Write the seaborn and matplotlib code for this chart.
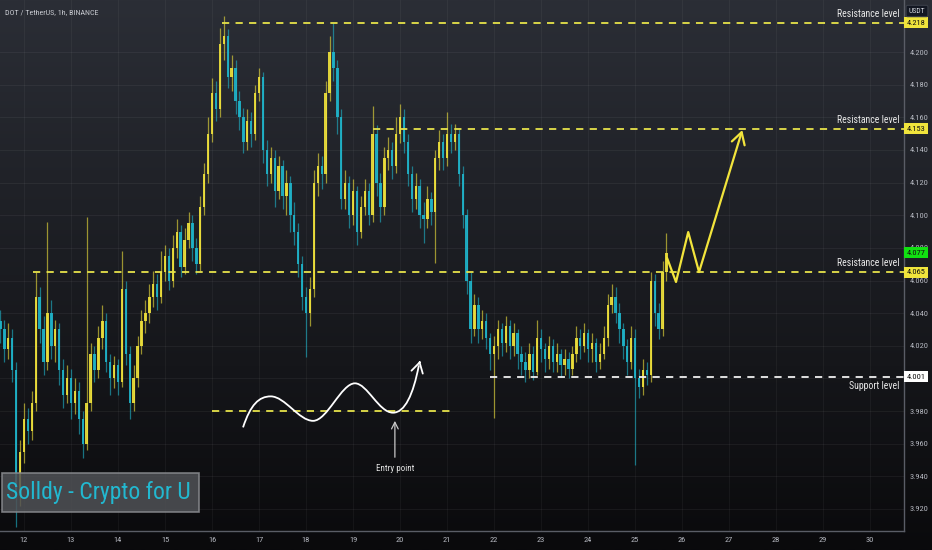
import numpy as np
import matplotlib
matplotlib.use("Agg")
import matplotlib.pyplot as plt
import seaborn as sns
from matplotlib.path import Path
from matplotlib.patches import PathPatch, Rectangle

# 2-hour candles, starting at day 11.5
start_day = 11.5
bar_days = 2 / 24
first_open = 4.035
closes = [
    4.030, 4.018, 4.025, 4.005, 3.930, 3.955, 3.975, 3.968, 3.985, 4.050,
    4.030, 4.010, 4.040, 4.020, 4.030, 4.005, 3.990, 4.000, 3.985, 3.992,
    3.975, 3.960, 3.985, 4.015, 4.005, 4.025, 4.035, 4.010, 4.000, 4.008,
    3.998, 4.055, 4.015, 3.985, 4.000, 4.020, 4.035, 4.040, 4.050, 4.058,
    4.050, 4.065, 4.075, 4.060, 4.080, 4.090, 4.068, 4.085, 4.095, 4.080,
    4.070, 4.105, 4.125, 4.150, 4.175, 4.165, 4.205, 4.210, 4.185, 4.190,
    4.170, 4.160, 4.145, 4.158, 4.150, 4.175, 4.185, 4.140, 4.125, 4.135,
    4.115, 4.130, 4.112, 4.120, 4.100, 4.090, 4.070, 4.050, 4.040, 4.055,
    4.120, 4.130, 4.125, 4.175, 4.200, 4.190, 4.160, 4.110, 4.120, 4.100,
    4.115, 4.090, 4.105, 4.115, 4.100, 4.150, 4.120, 4.105, 4.135, 4.140,
    4.130, 4.150, 4.160, 4.145, 4.125, 4.110, 4.118, 4.100, 4.098, 4.110,
    4.102, 4.135, 4.145, 4.135, 4.150, 4.145, 4.150, 4.125, 4.100, 4.060,
    4.030, 4.045, 4.030, 4.035, 4.025, 4.015, 4.020, 4.030, 4.022, 4.032,
    4.020, 4.028, 4.015, 4.010, 4.005, 4.015, 4.004, 4.025, 4.018, 4.012,
    4.020, 4.010, 4.015, 4.008, 4.012, 4.006, 4.015, 4.025, 4.020, 4.028,
    4.018, 4.022, 4.010, 4.015, 4.025, 4.045, 4.050, 4.040, 4.030, 4.020,
    4.010, 4.025, 4.000, 3.995, 4.005, 4.002, 4.060, 4.040, 4.030, 4.065,
    4.077,
]
highs = [
    4.042, 4.036, 4.034, 4.030, 4.010, 3.962, 3.985, 3.982, 3.992, 4.065,
    4.056, 4.038, 4.096, 4.048, 4.036, 4.034, 4.012, 4.008, 4.006, 4.000,
    3.998, 3.980, 4.099, 4.022, 4.020, 4.032, 4.045, 4.040, 4.015, 4.014,
    4.012, 4.078, 4.060, 4.020, 4.008, 4.026, 4.042, 4.048, 4.058, 4.066,
    4.064, 4.078, 4.082, 4.080, 4.088, 4.098, 4.094, 4.092, 4.102, 4.100,
    4.086, 4.112, 4.132, 4.160, 4.184, 4.182, 4.215, 4.222, 4.214, 4.198,
    4.195, 4.176, 4.166, 4.165, 4.163, 4.180, 4.190, 4.188, 4.146, 4.142,
    4.140, 4.136, 4.134, 4.128, 4.124, 4.108, 4.095, 4.075, 4.056, 4.062,
    4.128, 4.138, 4.136, 4.182, 4.210, 4.218, 4.195, 4.165, 4.128, 4.124,
    4.122, 4.118, 4.112, 4.122, 4.120, 4.167, 4.155, 4.126, 4.142, 4.148,
    4.145, 4.160, 4.168, 4.165, 4.150, 4.130, 4.126, 4.122, 4.108, 4.118,
    4.114, 4.140, 4.152, 4.150, 4.163, 4.156, 4.156, 4.153, 4.130, 4.104,
    4.065, 4.052, 4.050, 4.042, 4.040, 4.028, 4.026, 4.036, 4.034, 4.038,
    4.036, 4.034, 4.030, 4.020, 4.016, 4.022, 4.020, 4.036, 4.030, 4.022,
    4.026, 4.024, 4.022, 4.018, 4.018, 4.016, 4.020, 4.032, 4.030, 4.034,
    4.030, 4.028, 4.025, 4.022, 4.032, 4.052, 4.058, 4.056, 4.046, 4.034,
    4.024, 4.032, 4.030, 4.006, 4.012, 4.010, 4.065, 4.064, 4.046, 4.072,
    4.089,
]
lows = [
    4.022, 4.010, 4.012, 3.998, 3.909, 3.922, 3.948, 3.960, 3.962, 3.980,
    4.022, 4.002, 4.005, 4.012, 4.010, 3.996, 3.982, 3.985, 3.975, 3.978,
    3.966, 3.951, 3.956, 3.980, 3.998, 4.000, 4.018, 4.004, 3.990, 3.994,
    3.990, 3.995, 4.008, 3.975, 3.980, 3.995, 4.015, 4.028, 4.034, 4.044,
    4.042, 4.046, 4.060, 4.054, 4.056, 4.074, 4.062, 4.064, 4.080, 4.072,
    4.064, 4.066, 4.100, 4.120, 4.145, 4.158, 4.160, 4.195, 4.178, 4.176,
    4.162, 4.152, 4.138, 4.140, 4.142, 4.146, 4.170, 4.132, 4.118, 4.120,
    4.105, 4.110, 4.104, 4.100, 4.090, 4.082, 4.062, 4.042, 4.013, 4.032,
    4.050, 4.112, 4.116, 4.120, 4.170, 4.182, 4.150, 4.104, 4.104, 4.092,
    4.094, 4.082, 4.086, 4.100, 4.094, 4.096, 4.112, 4.096, 4.100, 4.128,
    4.122, 4.126, 4.144, 4.138, 4.118, 4.102, 4.104, 4.092, 4.083, 4.092,
    4.094, 4.071, 4.128, 4.128, 4.130, 4.138, 4.140, 4.118, 4.092, 4.052,
    4.022, 4.026, 4.022, 4.024, 4.018, 4.005, 3.976, 4.012, 4.014, 4.016,
    4.012, 4.014, 4.006, 4.002, 3.998, 4.000, 3.999, 4.002, 4.010, 4.004,
    4.006, 4.004, 4.004, 4.001, 4.002, 4.000, 4.002, 4.010, 4.012, 4.016,
    4.010, 4.010, 4.004, 4.006, 4.012, 4.020, 4.040, 4.034, 4.022, 4.012,
    4.002, 4.006, 3.947, 3.988, 3.990, 3.996, 3.998, 4.032, 4.024, 4.026,
    4.060,
]

price_ticks = [3.92, 3.94, 3.96, 3.98, 4.00, 4.02, 4.04, 4.06, 4.08, 4.10,
               4.12, 4.14, 4.16, 4.18, 4.20]
day_ticks = list(range(12, 31))

resistance_levels = [4.218, 4.153, 4.065]
resistance_starts = [16.21, 19.43, 12.19]
support_level = 4.001
support_start = 21.92
entry_level = 3.980
entry_span = (16.0, 21.17)
last_price = 4.077

proj_days = [25.68, 25.87, 26.13, 26.36, 27.28]
proj_prices = [4.0738, 4.0591, 4.0897, 4.0652, 4.1522]

# hand-drawn wave (bezier control points, day / price)
wave_pts = [(16.66, 3.970),
            (16.82, 3.984), (17.00, 3.989), (17.25, 3.989),
            (17.55, 3.989), (17.85, 3.974), (18.15, 3.974),
            (18.45, 3.974), (18.75, 3.997), (19.04, 3.997),
            (19.30, 3.997), (19.55, 3.979), (19.85, 3.979),
            (20.10, 3.979), (20.28, 3.990), (20.40, 4.008)]
wave_arrow_tip = (20.44, 4.0125)
entry_day = 19.89

xlim = (11.49, 30.72)
ylim = (3.9065, 4.2319)

UP = "#f2e43c"
DOWN = "#1fb6cc"
LINE_Y = "#e6e24a"
TXT = "#b4b7bf"

sns.set_theme(style="dark")
plt.rcParams["font.family"] = ["Roboto Condensed", "Liberation Sans Narrow", "DejaVu Sans"]
plt.rcParams["font.stretch"] = "condensed"

fig = plt.figure(figsize=(9.32, 5.5), dpi=100)

# background gradient over the whole figure
bg = fig.add_axes([0, 0, 1, 1], zorder=0)
grad = np.linspace(0, 1, 256).reshape(-1, 1)
top = np.array([43, 46, 54]) / 255
bot = np.array([10, 10, 12]) / 255
img = top + (bot - top) * grad[:, :, None]
bg.imshow(img, aspect="auto", extent=[0, 1, 0, 1])
bg.set_axis_off()

ax = fig.add_axes([0, 19 / 550, 904 / 932, 531 / 550], zorder=1)
ax.set_facecolor("none")
ax.set_xlim(*xlim)
ax.set_ylim(*ylim)

for d in day_ticks:
    ax.axvline(d, color="white", alpha=0.045, lw=0.8, zorder=0)
for p in price_ticks:
    ax.axhline(p, color="white", alpha=0.05, lw=0.8, zorder=0)

opens = [first_open] + closes[:-1]
days = [start_day + i * bar_days for i in range(len(closes))]
cols = [UP if c >= o else DOWN for o, c in zip(opens, closes)]
ax.vlines(days, lows, highs, colors=cols, lw=0.9, alpha=0.6, zorder=2)
bottoms = [min(o, c) for o, c in zip(opens, closes)]
heights = [max(abs(c - o), 0.0008) for o, c in zip(opens, closes)]
ax.bar(days, heights, bottom=bottoms, width=bar_days * 0.6, color=cols,
       alpha=0.9, linewidth=0, zorder=3)

# levels
for lvl, st in zip(resistance_levels, resistance_starts):
    ax.hlines(lvl, st, xlim[1], colors=LINE_Y, lw=1.3, linestyles=(0, (4, 3.5)), zorder=4)
    ax.annotate("Resistance level", (30.62, lvl), xytext=(0, 3), textcoords="offset points",
                ha="right", va="bottom", color="#e8e8e8", fontsize=7, zorder=6)
ax.hlines(support_level, support_start, xlim[1], colors="#f0f0f0", lw=1.3,
          linestyles=(0, (4, 3.5)), zorder=4)
ax.annotate("Support level", (30.62, support_level), xytext=(0, -3), textcoords="offset points",
            ha="right", va="top", color="#e8e8e8", fontsize=7, zorder=6)
ax.hlines(entry_level, entry_span[0], entry_span[1], colors=LINE_Y, lw=1.3,
          linestyles=(0, (4, 3.5)), zorder=4)

# wave
codes = [Path.MOVETO] + [Path.CURVE4] * (len(wave_pts) - 1)
ax.add_patch(PathPatch(Path(wave_pts, codes), fill=False, ec="white", lw=1.3, zorder=5))
ax.annotate("", xy=wave_arrow_tip, xytext=wave_pts[-1],
            arrowprops=dict(arrowstyle="->,head_length=0.6,head_width=0.35", color="white", lw=1.3),
            zorder=5)

# entry point arrow
ax.annotate("", xy=(entry_day, 3.9757), xytext=(entry_day, 3.950),
            arrowprops=dict(arrowstyle="->,head_length=0.4,head_width=0.2", color="#c8c8c8", lw=0.9))
ax.text(entry_day, 3.9445, "Entry point", color="#e0e0e0", fontsize=6.5, ha="center", va="center")

# projected path: zigzag, then the final leg as an arrow
sns.lineplot(x=proj_days[:-1], y=proj_prices[:-1], sort=False, color=UP, lw=1.6, ax=ax, zorder=5)
ax.annotate("", xy=(proj_days[-1], proj_prices[-1]), xytext=(proj_days[-2], proj_prices[-2]),
            arrowprops=dict(arrowstyle="->,head_length=0.7,head_width=0.4", color=UP, lw=1.6,
                            shrinkA=0, shrinkB=0),
            zorder=5)

# axes styling; 4.000 sits under the support price tag
ax.yaxis.tick_right()
ax.set_yticks(price_ticks)
ax.set_yticklabels(["" if p == 4.00 else f"{p:.3f}" for p in price_ticks])
ax.set_xticks(day_ticks)
ax.set_xticklabels([str(d) for d in day_ticks])
ax.tick_params(axis="both", length=0, colors=TXT, labelsize=6)
ax.tick_params(axis="y", pad=4)
ax.tick_params(axis="x", pad=4)
ax.grid(False)
for side in ["top", "left"]:
    ax.spines[side].set_visible(False)
for side in ["right", "bottom"]:
    ax.spines[side].set_visible(True)
    ax.spines[side].set_color("#5a5d66")
    ax.spines[side].set_linewidth(1.0)
ax.set_xlabel("")
ax.set_ylabel("")

# price tags on the right axis
tags = [(4.218, "#f0e43c", "#111111"), (4.153, "#f0e43c", "#111111"),
        (last_price, "#11e011", "#111111"), (4.065, "#f0e43c", "#111111"),
        (support_level, "#ffffff", "#111111")]
for val, fc, tc in tags:
    ax.annotate(f"{val:.3f}", (1.0, val), xycoords=("axes fraction", "data"),
                xytext=(2, 0), textcoords="offset points", ha="left", va="center",
                fontsize=6, color=tc, zorder=7, annotation_clip=False,
                bbox=dict(boxstyle="square,pad=0.3", fc=fc, ec="none"))

fig.text(917 / 932, 1 - 11 / 550, "USDT", ha="center", va="center", fontsize=5.5,
         color="#d0d3da",
         bbox=dict(boxstyle="round,pad=0.35,rounding_size=0.2", fc="#131722", ec="#3a3e48", lw=0.8))

fig.text(5 / 932, 1 - 12 / 550, "DOT / TetherUS, 1h, BINANCE", ha="left", va="center",
         fontsize=5.8, color="#c8cad0")

# watermark
wm = Rectangle((2 / 932, (550 - 512) / 550), 197 / 932, 39 / 550, transform=fig.transFigure,
               fc="#505256", ec="#8a8c90", lw=1.2, alpha=0.85, zorder=8)
fig.add_artist(wm)
fig.text(6 / 932, 1 - 493 / 550, "Solldy - Crypto for U", ha="left", va="center",
         fontsize=17, color="#22b8d0", zorder=9)

fig.savefig("out.png", dpi=100)
